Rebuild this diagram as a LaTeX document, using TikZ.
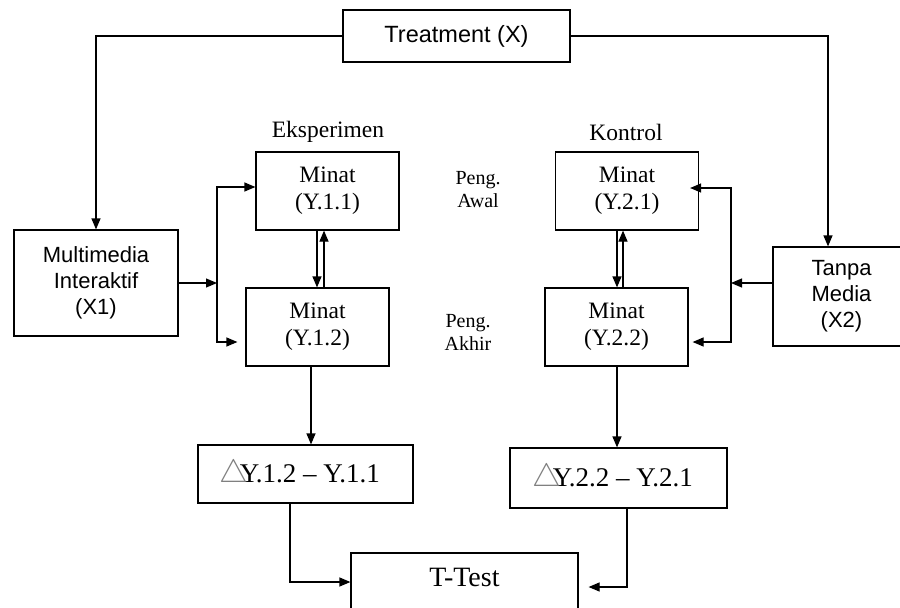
\documentclass[tikz,border=0pt]{standalone}
\usepackage{fontspec}
\setmainfont{Liberation Serif}
\newfontfamily\arialf{Liberation Sans}
\usetikzlibrary{arrows.meta}
\newcommand{\deltri}{{\color{gray}\scalebox{1.3}{$\triangle$}}\kern-8pt}
\begin{document}
\begin{tikzpicture}[x=1pt,y=-1pt,
  box/.style={draw, line width=1.2pt, inner sep=0pt, align=center},
  sansbox/.style={box, font=\arialf\fontsize{22}{26}\selectfont},
  minatbox/.style={box, minimum width=143pt, minimum height=78pt, font=\fontsize{23.5}{27}\selectfont},
  arr/.style={line width=1.2pt, -{Triangle[length=11pt,width=9pt]}},
  lbl/.style={inner sep=0pt, align=center}]
\clip (0,0) rectangle (900,608);
\fill[white] (0,0) rectangle (900,608);
% boxes
\node[sansbox, minimum width=227pt, minimum height=52pt, font=\arialf\fontsize{23.5}{27}\selectfont] (treat) at (456.5,36) {Treatment (X)};
\node[sansbox, minimum width=164pt, minimum height=106pt] (mm) at (96,283) {Multimedia\\Interaktif\\(X1)};
\node[sansbox, minimum width=137pt, minimum height=99pt] (tm) at (841.5,296.5) {Tanpa\\Media\\(X2)};
\node[minatbox] (y11) at (327.5,191) {Minat\\(Y.1.1)};
\node[minatbox] (y12) at (317.5,327) {Minat\\(Y.1.2)};
\node[minatbox] (y21) at (627,191) {Minat\\(Y.2.1)};
\node[minatbox] (y22) at (616.5,327) {Minat\\(Y.2.2)};
\node[box, minimum width=215pt, minimum height=58pt, font=\fontsize{27}{32}\selectfont] (d1) at (305.5,474) {\deltri Y.1.2 -- Y.1.1\hspace{12pt}};
\node[box, minimum width=217pt, minimum height=60pt, font=\fontsize{27}{32}\selectfont] (d2) at (618.5,478) {\deltri Y.2.2 -- Y.2.1\hspace{12pt}};
\node[box, minimum width=227pt, minimum height=87pt] (tt) at (464.5,596.5) {};
\node[lbl, font=\fontsize{28}{32}\selectfont] (ttl) at (464.5,577) {T-Test};
% labels
\node[lbl, font=\fontsize{23.5}{27}\selectfont] (eks) at (328,132) {Eksperimen};
\node[lbl, font=\fontsize{23.5}{27}\selectfont] (kon) at (626,132) {Kontrol};
\node[lbl, font=\fontsize{20}{23}\selectfont] (awal) at (478,190) {Peng.\\Awal};
\node[lbl, font=\fontsize{20}{23}\selectfont] (akhir) at (468,332) {Peng.\\Akhir};
% treatment connectors
\draw[arr] (treat.west) -| (mm.north);
\draw[arr] (treat.east) -| ([xshift=-13.5pt]tm.north);
% left branch
\coordinate (jl) at (217,283);
\draw[arr] (mm.east) -- (jl);
\draw[arr] (jl) |- ([yshift=4pt]y11.west);
\draw[arr] (jl) |- ([xshift=-8pt,yshift=-15pt]y12.west);
\draw[arr] ([xshift=-10.5pt]y11.south) -- ([xshift=-0.5pt]y12.north);
\draw[arr] ([xshift=6.5pt]y12.north) -- ([xshift=-3.5pt]y11.south);
% right branch
\coordinate (jr) at (731,283);
\draw[arr] ([yshift=13.5pt]tm.west) -- (jr);
\draw[arr] (jr) |- ([xshift=-9pt,yshift=3pt]y21.east);
\draw[arr] (jr) |- ([xshift=4pt,yshift=-15pt]y22.east);
\draw[arr] ([xshift=-10pt]y21.south) -- ([xshift=0.5pt]y22.north);
\draw[arr] ([xshift=6.5pt]y22.north) -- ([xshift=-4pt]y21.south);
% to deltas
\draw[arr] ([xshift=-6.5pt]y12.south) -- ([xshift=-6.5pt]y12.south |- d1.north);
\draw[arr] ([xshift=0.5pt]y22.south) -- ([xshift=0.5pt]y22.south |- d2.north);
% to T-Test
\draw[arr] ([xshift=-15.5pt]d1.south) |- ([yshift=14.5pt]tt.west);
\draw[arr] ([xshift=8.5pt]d2.south) |- ([xshift=10pt,yshift=9.5pt]tt.east);
\end{tikzpicture}
\end{document}
